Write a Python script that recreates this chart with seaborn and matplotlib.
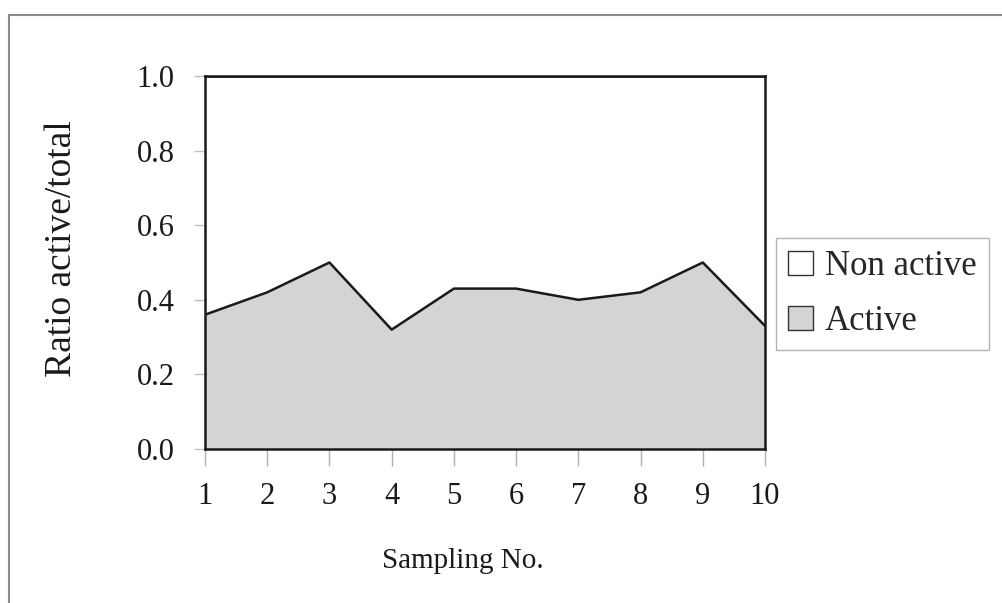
import matplotlib
matplotlib.use("Agg")
import matplotlib.pyplot as plt
import seaborn as sns
import numpy as np
from matplotlib.patches import Patch
from matplotlib.lines import Line2D

samplings = [1, 2, 3, 4, 5, 6, 7, 8, 9, 10]
active = [0.36, 0.42, 0.50, 0.32, 0.43, 0.43, 0.40, 0.42, 0.50, 0.33]
non_active = [1 - a for a in active]
y_ticks = [0.0, 0.2, 0.4, 0.6, 0.8, 1.0]

sns.set_theme(style="white")
plt.rcParams['font.family'] = ['Liberation Serif', 'DejaVu Serif']

fig = plt.figure(figsize=(10.02, 6.03), dpi=100)
ax = fig.add_axes([0.2046, 0.2554, 0.5589, 0.6186])

total = np.array(active) + np.array(non_active)
ax.fill_between(samplings, 0, active, color="#d4d4d4", linewidth=0)
ax.fill_between(samplings, active, total, color="white", linewidth=0)
sns.lineplot(x=samplings, y=active, ax=ax, color="#1a1a1a", linewidth=1.8)
sns.lineplot(x=samplings, y=list(total), ax=ax, color="#1a1a1a", linewidth=1.8)

ax.set_xlim(1, 10)
ax.set_ylim(0, 1.0)
ax.set_xticks(samplings)
ax.set_xticklabels([str(s) for s in samplings])
ax.set_yticks(y_ticks)
ax.set_yticklabels([f"{v:.1f}" for v in y_ticks])
ax.tick_params(axis="x", direction="out", length=12, width=1, color="#b0b0b0",
               pad=12, labelsize=22, labelcolor="#1a1a1a", bottom=True)
ax.tick_params(axis="y", direction="out", length=8, width=1, color="#c0c0c0",
               pad=14, labelsize=22, labelcolor="#1a1a1a", left=True)
for s in ax.spines.values():
    s.set_color("#1a1a1a")
    s.set_linewidth(1.8)

ax.set_xlabel("Sampling No.", fontsize=21, color="#1a1a1a")
ax.xaxis.set_label_coords(0.46, -0.265)
ax.set_ylabel("Ratio active/total", fontsize=27, color="#1a1a1a")
ax.yaxis.set_label_coords(-0.225, 0.536)

handles = [Patch(facecolor="white", edgecolor="#333333", label="Non active"),
           Patch(facecolor="#d4d4d4", edgecolor="#333333", label="Active")]
leg = fig.legend(handles=handles, loc="upper left", bbox_to_anchor=(0.7745, 0.605),
                 fontsize=25, frameon=True, fancybox=False, handlelength=0.7,
                 handleheight=0.7, handletextpad=0.35, borderpad=0.35, labelspacing=0.62,
                 borderaxespad=0)
leg.get_frame().set_edgecolor("#a0a0a0")
leg.get_frame().set_linewidth(1)

# outer frame: left and top edges only
fig.add_artist(Line2D([0.009, 0.009], [0.0, 0.975], transform=fig.transFigure,
                      color="#8a8a8a", linewidth=1.5))
fig.add_artist(Line2D([0.009, 1.0], [0.975, 0.975], transform=fig.transFigure,
                      color="#8a8a8a", linewidth=1.5))

fig.savefig("out.png", dpi=100)
